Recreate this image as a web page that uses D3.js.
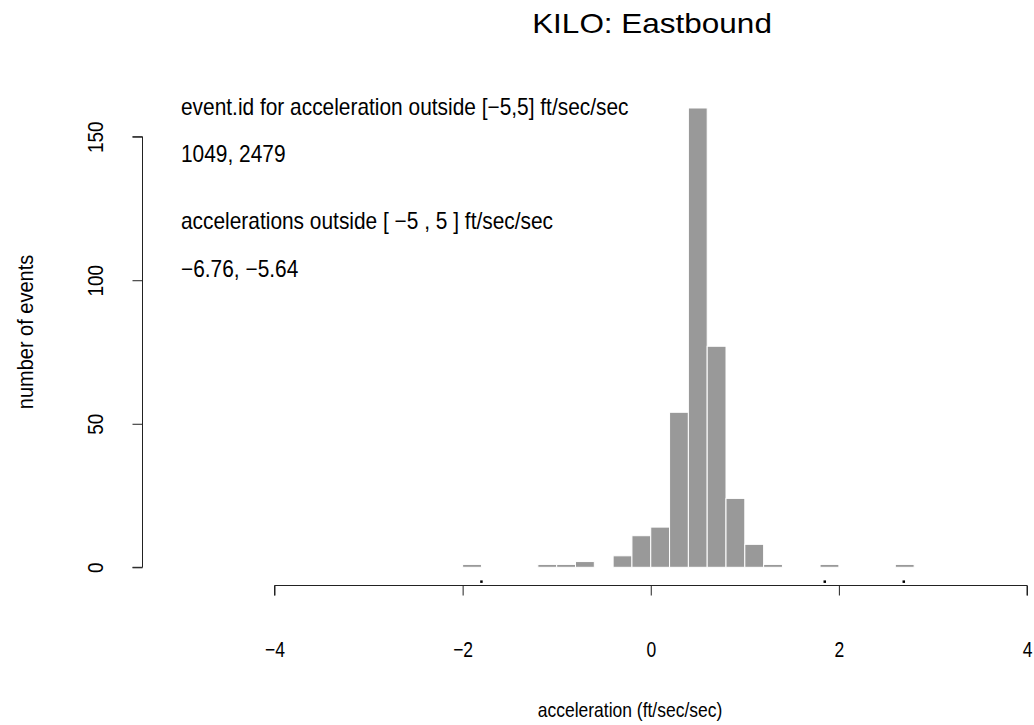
<!DOCTYPE html>
<html>
<head>
<meta charset="utf-8">
<script src="https://cdn.jsdelivr.net/npm/d3@7"></script>
<style>
  html, body { margin: 0; padding: 0; background: #fff; }
  svg { display: block; }
  text { font-family: "Liberation Sans", Arial, Helvetica, sans-serif; fill: #000; }
</style>
</head>
<body>
<svg id="chart" width="1034" height="725"></svg>
<script>
// Histogram bins (left edge, width 0.2 ft/sec/sec) and event counts per bin
const binStarts = [-2.0, -1.8, -1.6, -1.4, -1.2, -1.0, -0.8, -0.6, -0.4, -0.2,
                   0.0, 0.2, 0.4, 0.6, 0.8, 1.0, 1.2, 1.4, 1.6, 1.8,
                   2.0, 2.2, 2.4, 2.6];
const binCounts = [1, 0, 0, 0, 1, 1, 2, 0, 4, 11,
                   14, 54, 160, 77, 24, 8, 1, 0, 0, 1,
                   0, 0, 0, 1];
const binWidth = 0.2;

// Isolated accelerations marked below the bars
const rugValues = [-1.80, 1.85, 2.69];
const rugLevel = -5;

// Axis ticks
const xTicks = [-4, -2, 0, 2, 4];
const yTicks = [0, 50, 100, 150];

// Annotation lines
const titleText = "KILO: Eastbound";
const noteLines = [
  "event.id for acceleration outside [\u22125,5] ft/sec/sec",
  "1049, 2479",
  "accelerations outside [ \u22125 , 5 ] ft/sec/sec",
  "\u22126.76, \u22125.64"
];
const xLabel = "acceleration (ft/sec/sec)";
const yLabel = "number of events";

const svg = d3.select("#chart");

const x = d3.scaleLinear().domain([-4, 4]).range([274.5, 1027]);
const y = d3.scaleLinear().domain([0, 150]).range([567.3, 136.7]);

const fmt = v => (v < 0 ? "\u2212" + Math.abs(v) : String(v));

// Text helper: places a label at (px, py), optionally rotated, with the
// glyph height stretched by sy around the baseline.
function label(parent, str, px, py, size, sy, anchor, rot) {
  const g = parent.append("g")
    .attr("transform", `translate(${px},${py})${rot ? ` rotate(${rot})` : ""} scale(1,${sy})`);
  return g.append("text")
    .attr("text-anchor", anchor)
    .style("font-size", size + "px")
    .text(str);
}

// Bars
const bins = binStarts.map((s, i) => ({ x0: s, x1: s + binWidth, n: binCounts[i] }));
svg.append("g")
  .selectAll("rect")
  .data(bins)
  .join("rect")
  .attr("x", d => x(d.x0))
  .attr("y", d => y(d.n))
  .attr("width", d => x(d.x1) - x(d.x0))
  .attr("height", d => y(0) - y(d.n))
  .attr("fill", "#999999")
  .attr("stroke", "#ffffff")
  .attr("stroke-width", 1);

// Rug points
svg.append("g")
  .selectAll("rect")
  .data(rugValues)
  .join("rect")
  .attr("x", d => x(d) - 1.25)
  .attr("y", y(rugLevel) - 1.25)
  .attr("width", 2.5)
  .attr("height", 2.5)
  .attr("fill", "#000");

// X axis
const xAxis = d3.axisBottom(x).tickValues(xTicks).tickSize(10).tickFormat(() => "");
const gx = svg.append("g").attr("transform", "translate(0,585.5)").call(xAxis);
gx.select(".domain").attr("stroke", "#222").attr("d", `M${x(-4)},10V0H${x(4)}V10`);
gx.selectAll(".tick line").attr("stroke", "#222");
gx.selectAll(".tick").each(function(d) {
  label(d3.select(this), fmt(d), 0, 71, 17.5, 1.22, "middle", 0);
});

// Y axis
const yAxis = d3.axisLeft(y).tickValues(yTicks).tickSize(10).tickFormat(() => "");
const gy = svg.append("g").attr("transform", "translate(142.5,0)").call(yAxis);
gy.select(".domain").attr("stroke", "#222").attr("d", `M-10,${y(0)}H0V${y(150)}H-10`);
gy.selectAll(".tick line").attr("stroke", "#222");
gy.selectAll(".tick").each(function(d) {
  label(d3.select(this), fmt(d), -39.5, 0, 19, 1.2, "middle", -90);
});

// Title
label(svg, titleText, 652, 33, 31.5, 0.86, "middle", 0);

// Axis labels
label(svg, xLabel, 630, 717, 17.5, 1.12, "middle", 0);
label(svg, yLabel, 33, 332, 20, 1.12, "middle", -90);

// Notes in the upper left
const noteY = [115, 161.5, 229, 276.5];
noteLines.forEach((t, i) => label(svg, t, 181, noteY[i], 20.9, 1.1, "start", 0));
</script>
</body>
</html>
